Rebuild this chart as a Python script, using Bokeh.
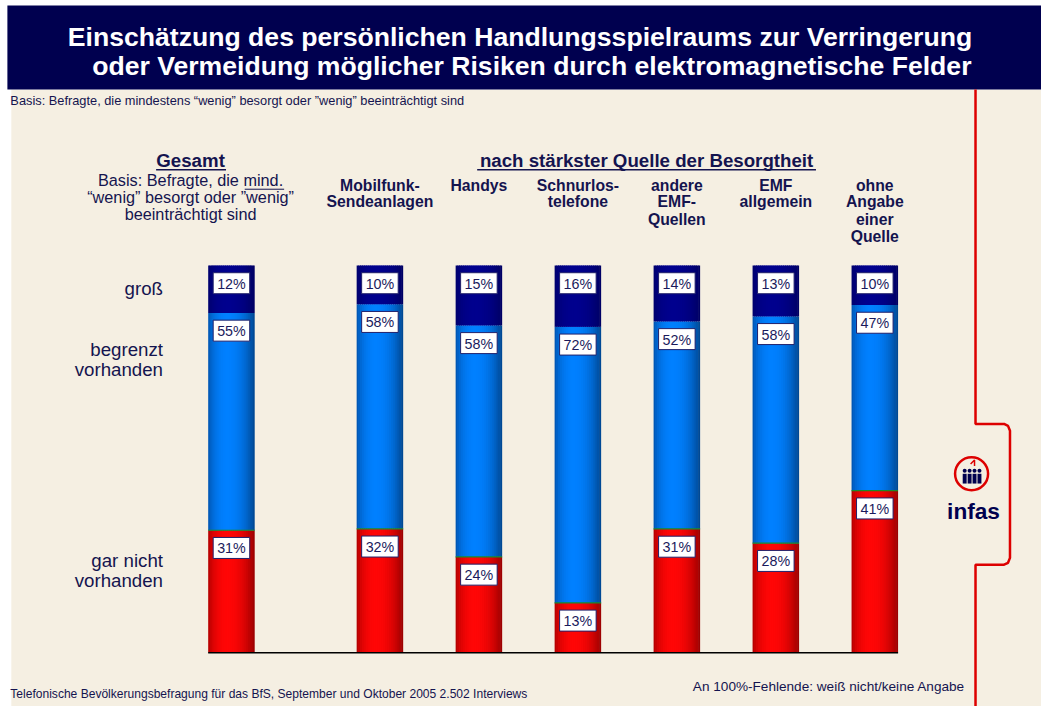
import numpy as np
from bokeh.plotting import figure
from bokeh.models import Range1d, ColumnDataSource
from bokeh.core.properties import value
from bokeh.embed import file_html
from bokeh.resources import INLINE

# ---------------- data ----------------
categories = ["Gesamt", "Mobilfunk-Sendeanlagen", "Handys", "Schnurlostelefone",
              "andere EMF-Quellen", "EMF allgemein", "ohne Angabe einer Quelle"]
header_lines = [None, ["Mobilfunk-", "Sendeanlagen"], ["Handys"], ["Schnurlos-", "telefone"],
                ["andere", "EMF-", "Quellen"], ["EMF", "allgemein"], ["ohne", "Angabe", "einer", "Quelle"]]
gross = [12, 10, 15, 16, 14, 13, 10]
begrenzt = [55, 58, 58, 72, 52, 58, 47]
gar_nicht = [31, 32, 24, 13, 31, 28, 41]

# ---------------- style / layout ----------------
W, H = 1041, 706
RW, RH = 1057, 722           # layout coordinate space
FS = W / RW                  # font scale
NAVY_TXT = "#14144F"
TITLE_BG = "#00004F"
BEIGE = "#F5EFE2"
FONT = value("Liberation Sans")

BASE_Y, TOP_Y = 667.0, 271.0
X0_PX, SLOT_PX = 234.5, 100.5
BAR_W = 0.47

p = figure(width=W, height=H, x_range=Range1d(0, RW), y_range=Range1d(RH, 0),
           x_axis_location=None, y_axis_location=None, min_border=0,
           toolbar_location=None, output_backend="svg", outline_line_color=None,
           background_fill_color="white", border_fill_color="white")
p.xgrid.visible = False
p.ygrid.visible = False

px_per_pct = (BASE_Y - TOP_Y) / 100.0
p.extra_y_ranges = {"pct": Range1d((BASE_Y - RH) / px_per_pct, BASE_Y / px_per_pct)}
p.extra_x_ranges = {"bx": Range1d((0 - X0_PX) / SLOT_PX, (RW - X0_PX) / SLOT_PX)}

p.quad(left=[11], right=[RW + 2], top=[91], bottom=[RH + 2], fill_color=BEIGE, line_color=None)
p.quad(left=[7], right=[RW + 2], top=[5], bottom=[91], fill_color=TITLE_BG, line_color=None)

def txt(x, y, s, size, bold=False, align="center", color=NAVY_TXT, scale=True):
    sz = size * FS if scale else size
    p.text(x=[x], y=[y], text=[s], text_font=FONT, text_font_size=value(f"{sz:.2f}px"),
           text_font_style="bold" if bold else "normal", text_color=color,
           text_align=align, text_baseline="middle")

txt(527.5, 37, "Einschätzung des persönlichen Handlungsspielraums zur Verringerung", 26.6, True, color="white", scale=False)
txt(539.5, 67, "oder Vermeidung möglicher Risiken durch elektromagnetische Felder", 26.6, True, color="white", scale=False)
txt(10, 102, "Basis: Befragte, die mindestens “wenig” besorgt oder ”wenig” beeinträchtigt sind", 12.8, align="left", scale=False)

txt(193, 164, "Gesamt", 19, True)
p.segment(x0=[158], x1=[229], y0=[173], y1=[173], line_color=NAVY_TXT, line_width=1.5)
txt(193, 184, "Basis: Befragte, die mind.", 16.5)
p.segment(x0=[248], x1=[288], y0=[193], y1=[193], line_color=NAVY_TXT, line_width=1)
txt(193, 201, "“wenig” besorgt oder ”wenig”", 16.5)
txt(193, 218, "beeinträchtigt sind", 16.5)
txt(656, 164, "nach stärkster Quelle der Besorgtheit", 19, True)
p.segment(x0=[484], x1=[828], y0=[173], y1=[173], line_color=NAVY_TXT, line_width=1.5)

xpos = [0.0] + [1.5 + i for i in range(len(categories) - 1)]

line_ys = [189, 206, 224, 241]
for i, lines in enumerate(header_lines):
    if not lines:
        continue
    cx = X0_PX + xpos[i] * SLOT_PX
    for j, s in enumerate(lines):
        txt(cx, line_ys[j], s, 16, True)

txt(165, 295, "groß", 19, align="right")
txt(165, 357, "begrenzt", 19, align="right")
txt(165, 377, "vorhanden", 19, align="right")
txt(165, 573, "gar nicht", 19, align="right")
txt(165, 593, "vorhanden", 19, align="right")

# ---------------- bars ----------------
g = np.array(gross, float); b = np.array(begrenzt, float); r = np.array(gar_nicht, float)
tot = g + b + r
r_n = r / tot * 100; b_n = b / tot * 100; g_n = g / tot * 100
seg_bottom = {"red": np.zeros_like(r_n), "blue": r_n, "navy": r_n + b_n}
seg_top = {"red": r_n, "blue": r_n + b_n, "navy": r_n + b_n + g_n}
shades = {
    "red": ((170, 0, 0), (255, 6, 6), (145, 0, 0)),
    "blue": ((0, 80, 168), (0, 128, 255), (0, 66, 135)),
    "navy": ((0, 0, 105), (0, 0, 142), (0, 0, 95)),
}
N = 24
xc = np.array(xpos)
for key in ["red", "blue", "navy"]:
    left, bright, right = shades[key]
    xs, bots, tops, cols = [], [], [], []
    for k in range(N):
        t = (k + 0.5) / N
        peak = 0.42
        if t < peak:
            f = 1 - ((peak - t) / peak) ** 2
            dark = left
        else:
            f = 1 - ((t - peak) / (1 - peak)) ** 2
            dark = right
        f = f ** 0.8
        c = tuple(int(round(dark[m] + (bright[m] - dark[m]) * f)) for m in range(3))
        col = "#%02x%02x%02x" % c
        for i in range(len(xc)):
            xs.append(xc[i] - BAR_W / 2 + (k + 0.5) * BAR_W / N)
            bots.append(seg_bottom[key][i]); tops.append(seg_top[key][i]); cols.append(col)
    widths = [BAR_W / N * (1.0 if (j // len(xc)) in (0, N - 1) else 1.6) for j in range(len(xs))]
    p.vbar(x=xs, bottom=bots, top=tops, width=widths, fill_color=cols,
           line_color=None, x_range_name="bx", y_range_name="pct")

p.segment(x0=xc - BAR_W / 2, x1=xc + BAR_W / 2, y0=r_n, y1=r_n, line_color="#1a8a2a",
          line_width=1.2, x_range_name="bx", y_range_name="pct")
p.segment(x0=[xc[0] - BAR_W / 2], x1=[xc[-1] + BAR_W / 2], y0=[0], y1=[0], line_color="black",
          line_width=1.5, x_range_name="bx", y_range_name="pct")

for vals, key in [(gar_nicht, "red"), (begrenzt, "blue"), (gross, "navy")]:
    src = ColumnDataSource(dict(x=xc, y=seg_top[key], t=[f"{v}%" for v in vals]))
    p.text(x="x", y="y", text="t", source=src, x_range_name="bx", y_range_name="pct",
           y_offset=18 * FS, text_align="center", text_baseline="middle",
           text_font=FONT, text_font_size=value(f"{14.5 * FS:.2f}px"), text_color="#1A1A5C",
           background_fill_color="white", border_line_color="#20206A",
           border_line_width=1, padding=dict(left=4, right=4, top=3, bottom=2))

# ---------------- right side: bracket + logo ----------------
bx = [990, 990, 1019, 1023, 1025, 1025, 1023, 1019, 990, 990]
by = [91, 433, 433, 435, 440, 570, 575, 577, 577, RH + 2]
p.line(x=bx, y=by, line_color="#DD0000", line_width=2.5)
p.scatter(x=[986], y=[484], size=33, marker="circle", fill_color=None, line_color="#DD0000", line_width=2.5)
p.scatter(x=[979, 984, 989, 994], y=[481, 481, 481, 481], size=4, marker="circle",
          fill_color=TITLE_BG, line_color=None)
p.quad(left=[977, 982, 987, 992], right=[981, 986, 991, 996], top=[484] * 4, bottom=[494] * 4,
       fill_color=TITLE_BG, line_color=None)
p.line(x=[985, 989, 989], y=[474, 470, 476], line_color="#DD0000", line_width=1.5)
txt(988, 522, "infas", 23, True, color=TITLE_BG)

txt(10, 709, "Telefonische Bevölkerungsbefragung für das BfS, September und Oktober 2005 2.502 Interviews", 12.05, align="left", scale=False)
txt(703, 702, "An 100%-Fehlende: weiß nicht/keine Angabe", 13.6, align="left", scale=False)

open("out.html", "w").write(file_html(p, INLINE))
